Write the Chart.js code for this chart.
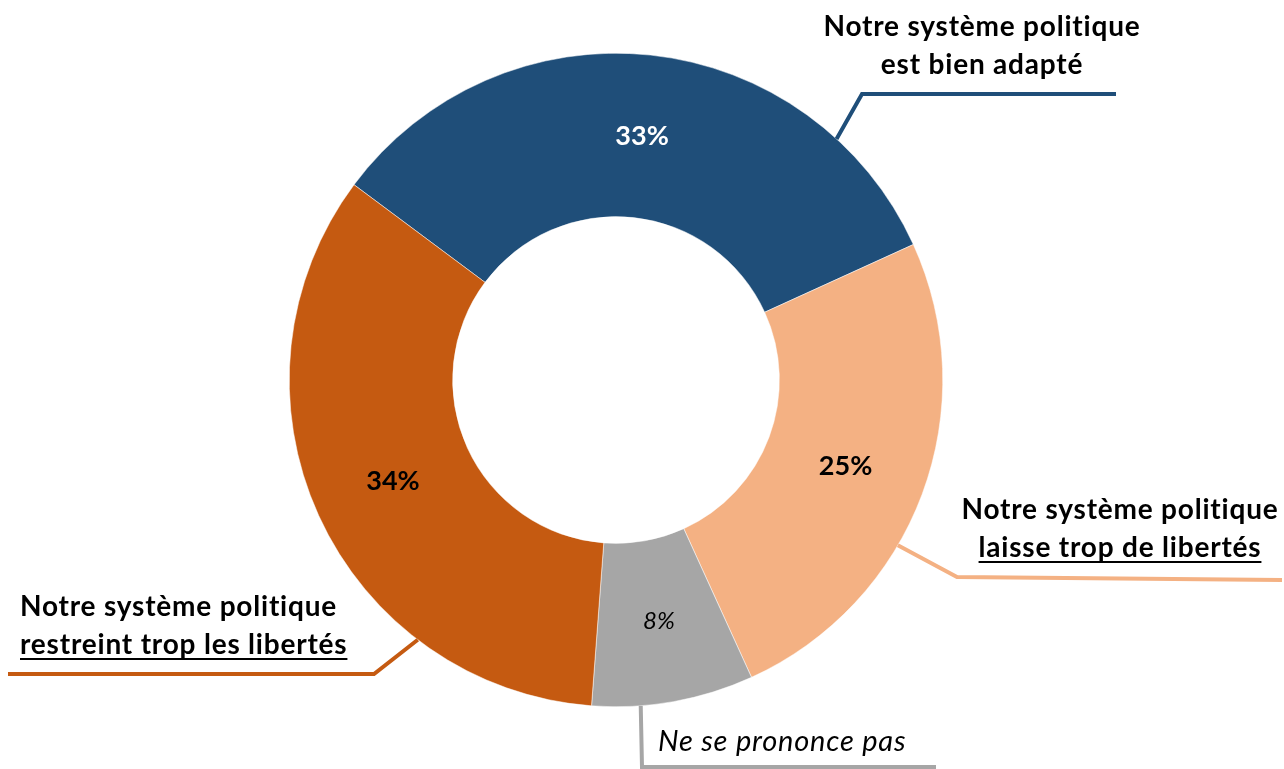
<!DOCTYPE html>
<html lang="fr">
<head>
<meta charset="utf-8">
<title>Système politique</title>
<script src="https://cdn.jsdelivr.net/npm/chart.js@4/dist/chart.umd.min.js"></script>
<style>
    html, body { margin: 0; padding: 0; background: #ffffff; }
    #wrap { width: 1284px; height: 769px; position: relative; }
</style>
</head>
<body>
<div id="wrap"><canvas id="donut" width="1284" height="769"></canvas></div>
<script>
// Données (ordre horaire en partant du haut-gauche)
const categories = [
    'Notre système politique est bien adapté',
    'Notre système politique laisse trop de libertés',
    'Ne se prononce pas',
    'Notre système politique restreint trop les libertés'
];
const values = [33, 25, 8, 34];
const colors = ['#1F4E79', '#F4B183', '#A6A6A6', '#C55A11'];

const FONT = 'Lato, "Open Sans", sans-serif';

// Étiquettes extérieures avec traits de rappel
const callouts = [
    { lines: ['Notre système politique', 'est bien adapté'], underline: [false, false], x: 982, y: [27, 65], align: 'center',
      at: 0.806, path: [[862, 94], [1116, 94]], italic: false },
    { lines: ['Notre système politique', 'laisse trop de libertés'], underline: [false, true], x: 1120, y: [510, 548], align: 'center',
      at: 0.61, path: [[957, 577], [1282, 580]], italic: false },
    { lines: ['Ne se prononce pas'], underline: [false], x: 658, y: [742], align: 'left',
      at: 0.70, path: [[642, 767], [936, 767]], italic: true },
    { lines: ['Notre système politique', 'restreint trop les libertés'], underline: [false, true], x: 20, y: [607, 645], align: 'left',
      at: 0.27, path: [[374, 674], [8, 674]], italic: false }
];

const labelPlugin = {
    id: 'labelPlugin',
    afterDatasetsDraw(chart) {
        const ctx = chart.ctx;
        const meta = chart.getDatasetMeta(0);
        ctx.save();
        // Pourcentages dans les segments
        meta.data.forEach((arc, i) => {
            const p = arc.getCenterPoint();
            ctx.fillStyle = i === 0 ? '#ffffff' : '#000000';
            ctx.font = i === 2 ? 'italic 24px ' + FONT : 'bold 27px ' + FONT;
            ctx.textAlign = 'center';
            ctx.textBaseline = 'middle';
            ctx.fillText(values[i] + '%', p.x, p.y);
        });

        // Traits de rappel + textes
        callouts.forEach((c, i) => {
            const arc = meta.data[i];
            const ang = arc.startAngle + (arc.endAngle - arc.startAngle) * c.at;
            const sx = arc.x + Math.cos(ang) * arc.outerRadius;
            const sy = arc.y + Math.sin(ang) * arc.outerRadius;
            ctx.strokeStyle = colors[i];
            ctx.lineWidth = 4;
            ctx.beginPath();
            ctx.moveTo(sx, sy);
            c.path.forEach(pt => ctx.lineTo(pt[0], pt[1]));
            ctx.stroke();

            ctx.fillStyle = '#000000';
            ctx.font = c.italic ? 'italic 29px ' + FONT : 'bold 28px ' + FONT;
            ctx.letterSpacing = '0.8px';
            ctx.textAlign = c.align;
            ctx.textBaseline = 'middle';
            c.lines.forEach((txt, j) => {
                ctx.fillText(txt, c.x, c.y[j]);
                if (c.underline[j]) {
                    const w = ctx.measureText(txt).width;
                    const x0 = c.align === 'center' ? c.x - w / 2 : c.x;
                    ctx.lineWidth = 2;
                    ctx.strokeStyle = '#000000';
                    ctx.beginPath();
                    ctx.moveTo(x0, c.y[j] + 14);
                    ctx.lineTo(x0 + w, c.y[j] + 14);
                    ctx.stroke();
                }
            });
            ctx.letterSpacing = '0px';
        });
        ctx.restore();
    }
};

new Chart(document.getElementById('donut'), {
    type: 'doughnut',
    data: {
        labels: categories,
        datasets: [{
            data: values,
            backgroundColor: colors,
            borderColor: '#ffffff',
            borderWidth: 0.5
        }]
    },
    options: {
        responsive: false,
        animation: false,
        devicePixelRatio: 1,
        rotation: -53.3,
        cutout: '50%',
        layout: { padding: { left: 289, right: 341, top: 53, bottom: 62 } },
        plugins: {
            legend: { display: false },
            tooltip: { enabled: false }
        }
    },
    plugins: [labelPlugin]
});
</script>
</body>
</html>
